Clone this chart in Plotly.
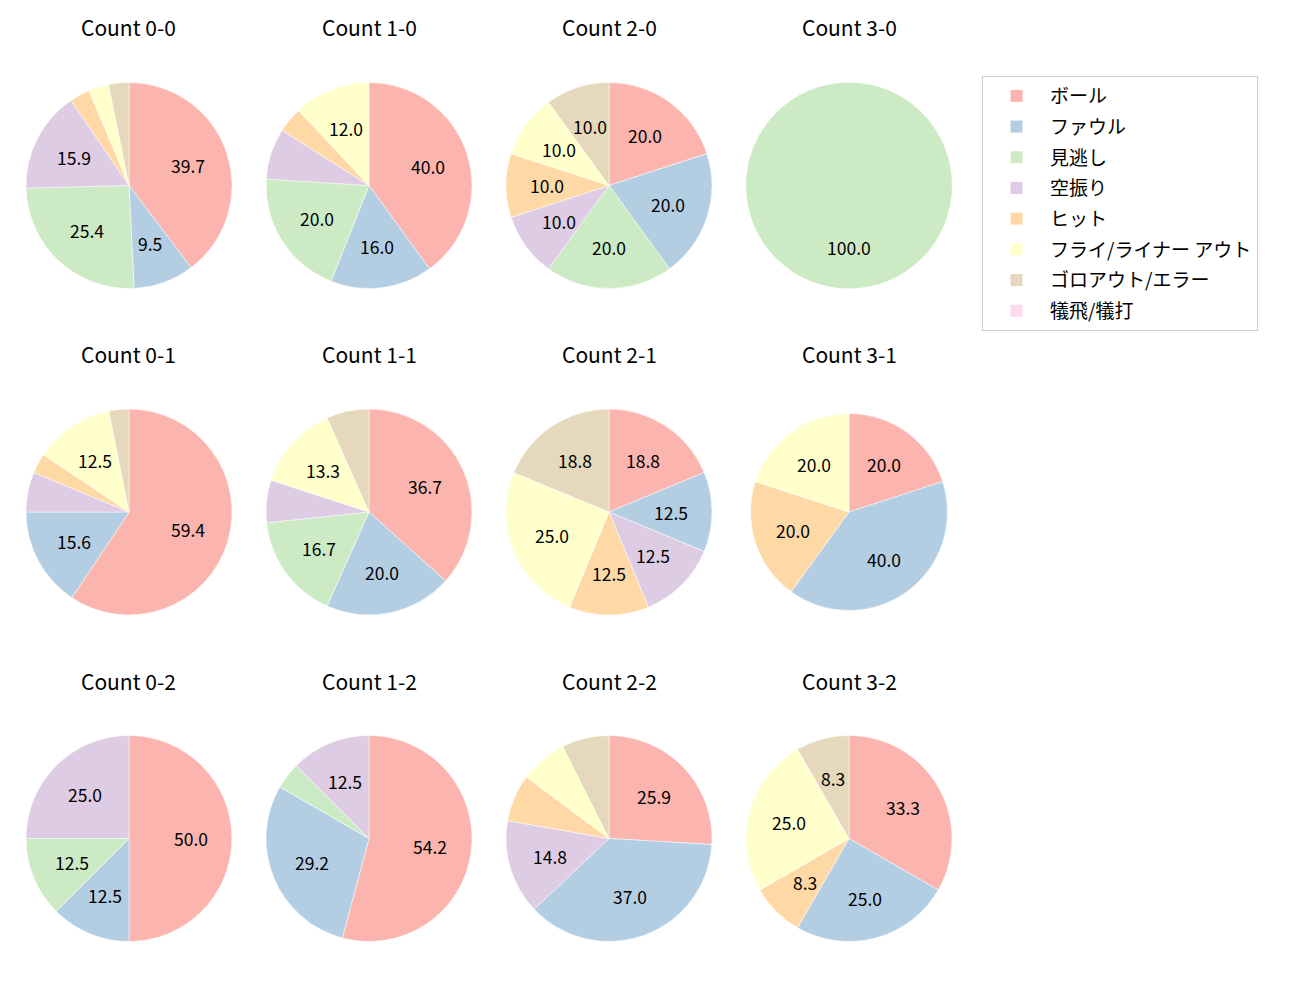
import math
import plotly.graph_objects as go

# 打球結果の区分と配色 (Pastel1)
labels = ["ボール", "ファウル", "見逃し", "空振り", "ヒット",
          "フライ/ライナー アウト", "ゴロアウト/エラー", "犠飛/犠打"]
colors = ["#fbb4ae", "#b3cde3", "#ccebc5", "#decbe4",
          "#fed9a6", "#ffffcc", "#e5d8bd", "#fddaec"]

# カウント別の投球数 (labels の順)
titles = ["Count 0-0", "Count 1-0", "Count 2-0", "Count 3-0",
          "Count 0-1", "Count 1-1", "Count 2-1", "Count 3-1",
          "Count 0-2", "Count 1-2", "Count 2-2", "Count 3-2"]
c00 = [25, 6, 16, 10, 2, 2, 2, 0]
c10 = [10, 4, 5, 2, 1, 3, 0, 0]
c20 = [2, 2, 2, 1, 1, 1, 1, 0]
c30 = [0, 0, 1, 0, 0, 0, 0, 0]
c01 = [19, 5, 0, 2, 1, 4, 1, 0]
c11 = [11, 6, 5, 2, 0, 4, 2, 0]
c21 = [3, 2, 0, 2, 2, 4, 3, 0]
c31 = [1, 2, 0, 0, 1, 1, 0, 0]
c02 = [4, 1, 1, 2, 0, 0, 0, 0]
c12 = [13, 7, 1, 3, 0, 0, 0, 0]
c22 = [7, 10, 0, 4, 2, 2, 2, 0]
c32 = [4, 3, 0, 0, 1, 3, 1, 0]
counts = [c00, c10, c20, c30, c01, c11, c21, c31, c02, c12, c22, c32]

MIN_LABEL_PCT = 8.1
W, H = 1300, 1000
OFF = 8  # ページ余白ぶんの補正
FONT = "Noto Sans CJK JP"


def px(x):
    return (x - OFF) / W


def py(y):
    return 1 - (y - OFF) / H


fig = go.Figure()
annotations = []

for i, (title, vals) in enumerate(zip(titles, counts)):
    row, col = divmod(i, 4)
    cx = 129 + 240 * col
    cy = 185.5 + 326.5 * row
    r = 98.5 if title == "Count 3-1" else 103
    n_nonzero = sum(1 for v in vals if v > 0)
    widths = [0.5 if (v > 0 and n_nonzero > 1) else 0 for v in vals]
    fig.add_trace(go.Pie(
        labels=labels, values=vals, sort=False, direction="clockwise",
        marker=dict(colors=colors, line=dict(color="white", width=widths)),
        textinfo="none", hoverinfo="label+percent", showlegend=False,
        domain=dict(x=[px(cx - r), px(cx + r)], y=[py(cy + r), py(cy - r)]),
    ))
    annotations.append(dict(
        text=title, x=px(cx), y=py(27.5 + row * 326.5),
        xref="paper", yref="paper", showarrow=False,
        xanchor="center", yanchor="middle", font=dict(size=21),
    ))
    # パーセント表示 (matplotlib の pctdistance=0.6 相当)
    total = sum(vals)
    cum = 0
    for v in vals:
        pct = 100 * v / total
        if pct >= MIN_LABEL_PCT:
            th = 2 * math.pi * (cum + v / 2) / total
            annotations.append(dict(
                text=f"{pct:.1f}",
                x=px(cx + 0.6 * r * math.sin(th)),
                y=py(cy - 0.6 * r * math.cos(th)),
                xref="paper", yref="paper", showarrow=False,
                xanchor="center", yanchor="middle", font=dict(size=17.5),
            ))
        cum += v

# 凡例用のダミー (凡例の背後に隠れるごく小さな円)
for lab, colr in zip(labels, colors):
    fig.add_trace(go.Pie(
        labels=[lab], values=[1], marker=dict(colors=[colr]),
        textinfo="none", hoverinfo="skip", legendgroup=lab, showlegend=True,
        domain=dict(x=[px(1150), px(1151)], y=[py(201), py(200)]),
    ))

fig.update_layout(
    width=W, height=H, margin=dict(l=0, r=0, t=0, b=0),
    paper_bgcolor="white", plot_bgcolor="white",
    font=dict(family=FONT, color="black"),
    annotations=annotations,
    legend=dict(x=px(982), y=py(76), xanchor="left", yanchor="top",
                traceorder="grouped", tracegroupgap=3,
                bordercolor="#cccccc", borderwidth=1, bgcolor="white",
                font=dict(size=19), itemwidth=57),
)

fig.write_html("out.html")
